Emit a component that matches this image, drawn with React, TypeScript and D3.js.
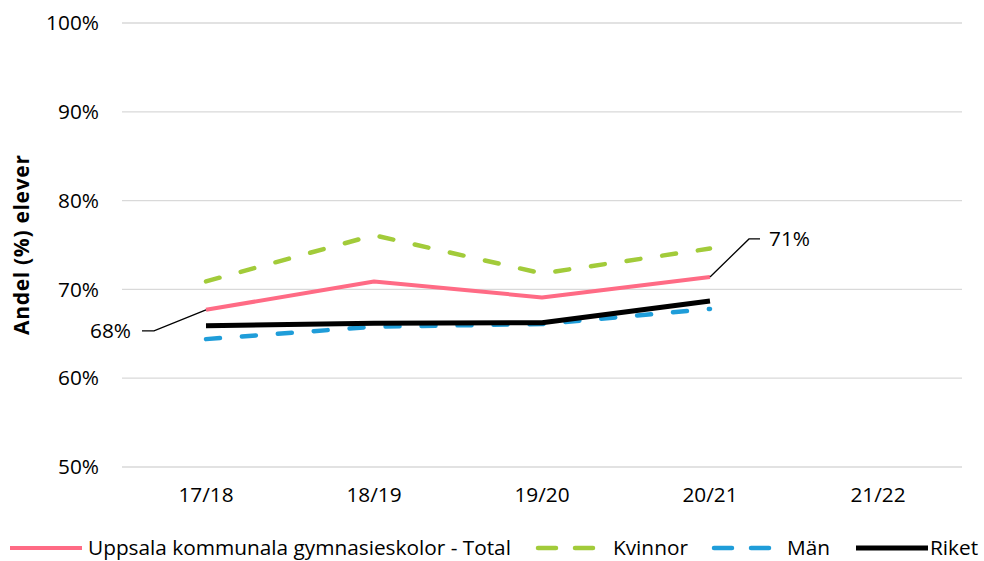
import React from "react";
import * as d3 from "d3";

const years = ["17/18", "18/19", "19/20", "20/21", "21/22"];
const total = [67.7, 70.9, 69.1, 71.4, null];
const kvinnor = [70.9, 76.1, 71.8, 74.6, null];
const man = [64.4, 65.8, 66.1, 67.8, null];
const riket = [65.9, 66.2, 66.25, 68.7, null];
const yTicks = [50, 60, 70, 80, 90, 100];

const W = 984;
const H = 561;
const m = { top: 23, right: 22, bottom: 94, left: 122 };
const font = "'Open Sans', 'Liberation Sans', sans-serif";
const fs = 20.8;

const series = [
  { name: "Uppsala kommunala gymnasieskolor - Total", values: total, color: "#ff6b85", width: 4, dash: null },
  { name: "Kvinnor", values: kvinnor, color: "#a2cb3a", width: 4.5, dash: "14 22" },
  { name: "Män", values: man, color: "#1f9dd9", width: 4.5, dash: "14 22" },
  { name: "Riket", values: riket, color: "#000000", width: 5, dash: null },
];

export default function App() {
  const x = d3.scalePoint<string>().domain(years).range([m.left, W - m.right]).padding(0.5);
  const y = d3.scaleLinear().domain([50, 100]).range([H - m.bottom, m.top]);

  const line = d3
    .line<number | null>()
    .defined((d) => d != null)
    .x((_, i) => x(years[i]) as number)
    .y((d) => y(d as number));

  // data labels on Total: first and last
  const firstX = x(years[0]) as number;
  const firstY = y(total[0] as number);
  const lastX = x(years[3]) as number;
  const lastY = y(total[3] as number);

  // legend layout
  const legend = [
    { s: series[0], lx: 10, tx: 88 },
    { s: series[1], lx: 536, tx: 613 },
    { s: series[2], lx: 712, tx: 787 },
    { s: series[3], lx: 856, tx: 930 },
  ];
  const legY = 548;

  return (
    <svg width={W} height={H} style={{ position: "absolute", left: 0, top: 0, background: "#fff" }} fontFamily={font}>
      {/* grid */}
      {yTicks.map((t) => (
        <g key={t}>
          <line x1={m.left} x2={W - m.right} y1={y(t)} y2={y(t)} stroke="#d9d9d9" strokeWidth={1.3} />
          <text x={99} y={y(t)} dy="0.35em" textAnchor="end" fontSize={fs} fill="#000">
            {t}%
          </text>
        </g>
      ))}
      {/* x labels */}
      {years.map((c) => (
        <text key={c} x={x(c)} y={495} dy="0.35em" textAnchor="middle" fontSize={fs} fill="#000">
          {c}
        </text>
      ))}
      <text
        transform={`translate(22,${(m.top + H - m.bottom) / 2}) rotate(-90)`}
        textAnchor="middle"
        dy="0.35em"
        fontSize={21}
        fontWeight="bold"
        textLength={180}
        lengthAdjust="spacing"
      >
        Andel (%) elever
      </text>

      {/* lines */}
      {[series[1], series[2], series[3], series[0]].map((s) => (
        <path
          key={s.name}
          d={line(s.values) || ""}
          fill="none"
          stroke={s.color}
          strokeWidth={s.width}
          strokeDasharray={s.dash || undefined}
          strokeLinecap={s.dash ? "round" : "butt"}
          strokeLinejoin="round"
        />
      ))}

      {/* leader lines + labels */}
      <polyline
        points={`${firstX},${firstY} ${firstX - 52},${firstY + 21} ${firstX - 64},${firstY + 21}`}
        fill="none"
        stroke="#000"
        strokeWidth={1.3}
      />
      <text x={131} y={firstY + 21} dy="0.35em" textAnchor="end" fontSize={fs}>
        {Math.round(total[0] as number)}%
      </text>
      <polyline
        points={`${lastX},${lastY} ${lastX + 39},${lastY - 38} ${lastX + 50},${lastY - 38}`}
        fill="none"
        stroke="#000"
        strokeWidth={1.3}
      />
      <text x={769} y={lastY - 38} dy="0.35em" textAnchor="start" fontSize={fs}>
        {Math.round(total[3] as number)}%
      </text>

      {/* legend */}
      {legend.map(({ s, lx, tx }) => (
        <g key={s.name}>
          <line
            x1={lx + (s.dash ? 2 : 0)}
            x2={lx + 72 - (s.dash ? 14 : 0)}
            y1={legY}
            y2={legY}
            stroke={s.color}
            strokeWidth={s.width}
            strokeDasharray={s.dash ? "18 19" : undefined}
            strokeLinecap={s.dash ? "round" : "butt"}
          />
          <text x={tx} y={legY} dy="0.35em" fontSize={fs}>
            {s.name}
          </text>
        </g>
      ))}
    </svg>
  );
}
